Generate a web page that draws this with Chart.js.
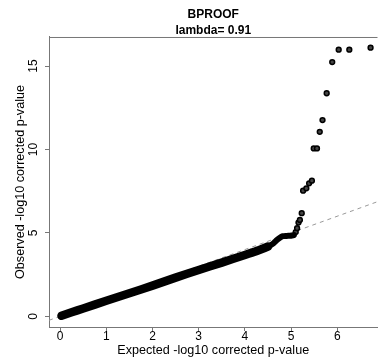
<!DOCTYPE html>
<html>
<head>
<meta charset="utf-8">
<script src="https://cdn.jsdelivr.net/npm/chart.js@4/dist/chart.umd.min.js"></script>
<style>
  html, body { margin: 0; padding: 0; background: #fff; }
  #wrap { width: 383px; height: 361px; }
</style>
</head>
<body>
<div id="wrap"><canvas id="qqPlot" width="383" height="361"></canvas></div>
<script>
const titleLines = ['BPROOF', 'lambda= 0.91'];
const xLabel = 'Expected -log10 corrected p-value';
const yLabel = 'Observed -log10 corrected p-value';

// dense part of the QQ cloud (expected, observed)
const bandExpected = [0.03, 0.25, 0.5, 1.0, 1.5, 2.0, 2.5, 3.0, 3.5, 4.0, 4.3, 4.5];
const bandObserved = [0.03, 0.24, 0.47, 0.93, 1.38, 1.84, 2.32, 2.78, 3.22, 3.68, 3.96, 4.18];
// thinner stretch where the cloud bends up and flattens
const shoulderExpected = [4.45, 4.55, 4.62, 4.68, 4.75, 4.82, 4.9, 5.0, 5.06];
const shoulderObserved = [4.13, 4.25, 4.38, 4.55, 4.7, 4.8, 4.82, 4.83, 4.87];
// single points in the tail
const tailExpected = [5.1, 5.13, 5.16, 5.19, 5.23, 5.26, 5.33, 5.39, 5.45, 5.49, 5.56, 5.62, 5.68, 5.77, 5.89, 6.03, 6.26, 6.72];
const tailObserved = [5.05, 5.28, 5.62, 5.78, 6.18, 7.53, 7.67, 7.97, 8.13, 10.06, 10.06, 11.06, 11.76, 13.37, 15.24, 15.98, 15.98, 16.1];
// y = x reference line ends
const refLine = [-0.24, 6.87];

const xMin = -0.24, xMax = 6.87;
const yMin = -0.64, yMax = 16.74;

const fontFamily = '"Liberation Sans", Arial, Helvetica, sans-serif';
const axisGrey = '#777';

const toPoints = (xs, ys) => xs.map((x, i) => ({ x: x, y: ys[i] }));

// R draws y tick labels parallel to the axis, plus a full box
const rBoxExtras = {
  id: 'rBoxExtras',
  afterDraw(chart) {
    const ctx = chart.ctx;
    const yScale = chart.scales.y;
    const area = chart.chartArea;
    ctx.save();
    ctx.strokeStyle = axisGrey;
    ctx.lineWidth = 1;
    ctx.beginPath();
    ctx.moveTo(area.left, area.top + 0.5);
    ctx.lineTo(area.right, area.top + 0.5);
    ctx.stroke();

    ctx.fillStyle = '#000';
    ctx.font = '12px ' + fontFamily;
    ctx.textAlign = 'center';
    ctx.textBaseline = 'middle';
    yScale.ticks.forEach(t => {
      ctx.save();
      ctx.translate(area.left - 15, yScale.getPixelForValue(t.value));
      ctx.rotate(-Math.PI / 2);
      ctx.fillText(String(t.value), 0, 0);
      ctx.restore();
    });
    ctx.restore();
  }
};

new Chart(document.getElementById('qqPlot'), {
  type: 'scatter',
  data: {
    datasets: [
      {
        label: 'band',
        data: toPoints(bandExpected, bandObserved),
        showLine: true,
        borderColor: '#000',
        borderWidth: 8.5,
        borderCapStyle: 'round',
        borderJoinStyle: 'round',
        pointRadius: 0,
        tension: 0.3
      },
      {
        label: 'shoulder',
        data: toPoints(shoulderExpected, shoulderObserved),
        showLine: true,
        borderColor: '#000',
        borderWidth: 6,
        borderCapStyle: 'round',
        borderJoinStyle: 'round',
        pointRadius: 0,
        tension: 0.3
      },
      {
        label: 'tail',
        data: toPoints(tailExpected, tailObserved),
        pointRadius: 2.4,
        pointBorderWidth: 1.5,
        borderColor: '#000',
        backgroundColor: '#444'
      },
      {
        label: 'expected',
        data: toPoints(refLine, refLine),
        showLine: true,
        borderColor: '#999',
        borderWidth: 1,
        borderDash: [4, 4],
        pointRadius: 0
      }
    ]
  },
  options: {
    responsive: false,
    animation: false,
    layout: { padding: 0 },
    plugins: {
      legend: { display: false },
      tooltip: { enabled: false },
      title: {
        display: true,
        text: titleLines,
        fullSize: false,
        color: '#000',
        font: { family: fontFamily, size: 12, weight: 'bold', lineHeight: 1.3333 },
        padding: { top: 7, bottom: -2 }
      }
    },
    scales: {
      x: {
        type: 'linear',
        min: xMin,
        max: xMax,
        afterFit: s => { s.height = 34; },
        grid: { drawOnChartArea: false, drawTicks: true, tickLength: 4, color: axisGrey },
        border: { display: true, color: axisGrey, width: 1 },
        ticks: {
          stepSize: 1,
          includeBounds: false,
          maxRotation: 0,
          padding: -1.5,
          color: '#000',
          font: { family: fontFamily, size: 12 }
        },
        title: {
          display: true,
          text: xLabel,
          color: '#000',
          font: { family: fontFamily, size: 12.6 },
          padding: { top: 0, bottom: 3 }
        }
      },
      y: {
        type: 'linear',
        min: yMin,
        max: yMax,
        afterFit: s => { s.width = 49; },
        grid: { drawOnChartArea: false, drawTicks: true, tickLength: 4, color: axisGrey },
        border: { display: true, color: axisGrey, width: 1 },
        ticks: {
          stepSize: 5,
          includeBounds: false,
          display: false
        },
        title: {
          display: true,
          text: yLabel,
          color: '#000',
          font: { family: fontFamily, size: 12.6 },
          padding: { top: 13, bottom: 0 }
        }
      }
    }
  },
  plugins: [rBoxExtras]
});
</script>
</body>
</html>
